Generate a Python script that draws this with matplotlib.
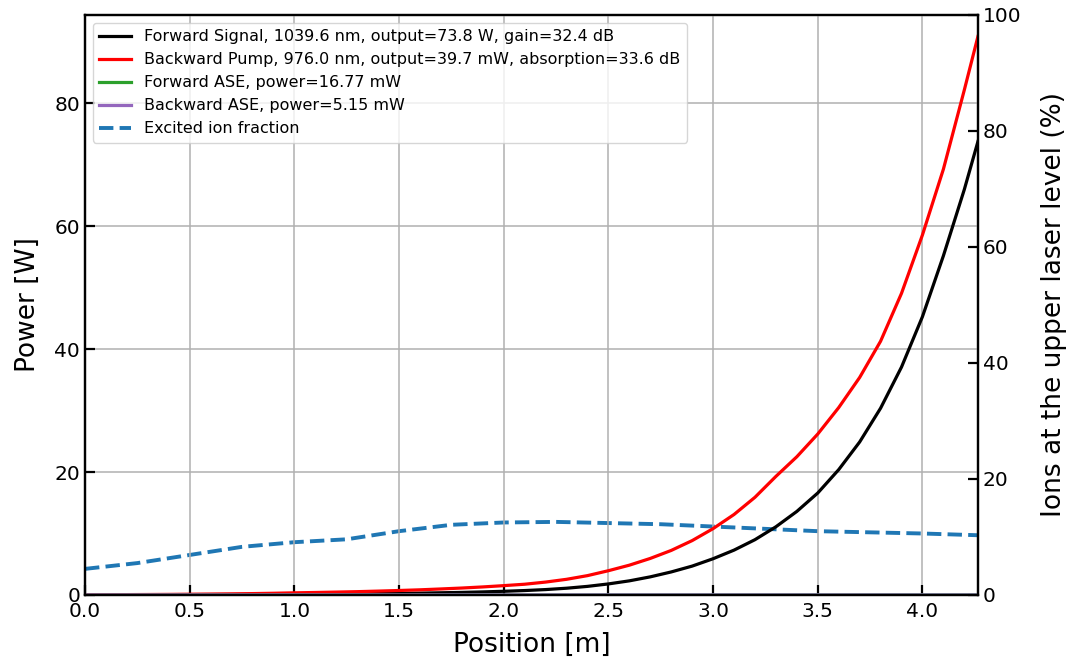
import matplotlib
matplotlib.use("Agg")
import matplotlib.pyplot as plt

# Fiber position along the amplifier [m]
position = [0.0, 0.1, 0.2, 0.3, 0.4, 0.5, 0.6, 0.7, 0.8, 0.9,
            1.0, 1.1, 1.2, 1.3, 1.4, 1.5, 1.6, 1.7, 1.8, 1.9,
            2.0, 2.1, 2.2, 2.3, 2.4, 2.5, 2.6, 2.7, 2.8, 2.9,
            3.0, 3.1, 3.2, 3.3, 3.4, 3.5, 3.6, 3.7, 3.8, 3.9,
            4.0, 4.1, 4.2, 4.265]

# Power along the fiber [W]
signal_power = [0.0425, 0.046, 0.05, 0.055, 0.06, 0.067, 0.075, 0.084, 0.095, 0.107,
                0.12, 0.14, 0.16, 0.19, 0.22, 0.26, 0.3, 0.36, 0.42, 0.5,
                0.6, 0.72, 0.88, 1.1, 1.4, 1.8, 2.3, 2.95, 3.75, 4.7,
                5.9, 7.3, 9.0, 11.1, 13.6, 16.6, 20.4, 24.9, 30.4, 37.1,
                45.3, 55.2, 66.0, 73.8]
pump_power = [0.0397, 0.049, 0.061, 0.076, 0.095, 0.118, 0.146, 0.18, 0.225, 0.28,
              0.35, 0.405, 0.47, 0.54, 0.63, 0.73, 0.84, 0.98, 1.13, 1.31,
              1.52, 1.75, 2.1, 2.55, 3.15, 3.95, 4.85, 5.95, 7.25, 8.85,
              10.8, 13.1, 15.9, 19.3, 22.5, 26.2, 30.5, 35.4, 41.3, 49.1,
              58.6, 69.3, 82.2, 90.9]
forward_ase = [0.0, 0.0001, 0.0002, 0.0002, 0.0003, 0.0004, 0.0005, 0.0005, 0.0006, 0.0007,
               0.0008, 0.0009, 0.001, 0.0011, 0.0012, 0.0013, 0.0014, 0.0015, 0.0016, 0.0018,
               0.002, 0.0022, 0.0024, 0.0026, 0.0028, 0.003, 0.0033, 0.0036, 0.004, 0.0043,
               0.0047, 0.0051, 0.0056, 0.0061, 0.0066, 0.0072, 0.0079, 0.0087, 0.0096, 0.0106,
               0.0118, 0.0134, 0.0152, 0.01677]
backward_ase = [0.00515, 0.005, 0.0049, 0.0048, 0.0047, 0.0046, 0.0045, 0.0044, 0.0043, 0.0042,
                0.0041, 0.004, 0.0039, 0.0038, 0.0036, 0.0035, 0.0034, 0.0032, 0.0031, 0.003,
                0.0028, 0.0027, 0.0025, 0.0024, 0.0022, 0.0021, 0.0019, 0.0018, 0.0016, 0.0015,
                0.0013, 0.0012, 0.001, 0.0009, 0.0008, 0.0007, 0.0006, 0.0005, 0.0004, 0.0003,
                0.0002, 0.0001, 0.00005, 0.0]

# Excited ion fraction [%]
ion_position = [0.0, 0.25, 0.5, 0.75, 1.0, 1.25, 1.5, 1.75, 2.0, 2.25, 2.5, 2.75,
                3.0, 3.25, 3.5, 3.75, 4.0, 4.265]
excited_fraction = [4.5, 5.5, 6.9, 8.3, 9.1, 9.6, 11.0, 12.1, 12.5, 12.6, 12.4, 12.2,
                    11.8, 11.4, 11.0, 10.8, 10.6, 10.3]

labels = [
    "Forward Signal, 1039.6 nm, output=73.8 W, gain=32.4 dB",
    "Backward Pump, 976.0 nm, output=39.7 mW, absorption=33.6 dB",
    "Forward ASE, power=16.77 mW",
    "Backward ASE, power=5.15 mW",
    "Excited ion fraction",
]

fig = plt.figure(figsize=(10.71, 6.63), dpi=100)
ax = fig.add_axes([0.0794, 0.1026, 0.8337, 0.8748])
ax2 = ax.twinx()

l1, = ax.plot(position, signal_power, color="black", lw=2.3, label=labels[0])
l2, = ax.plot(position, pump_power, color="red", lw=2.3, label=labels[1])
l3, = ax.plot(position, forward_ase, color="tab:green", lw=2.3, label=labels[2])
l4, = ax.plot(position, backward_ase, color="tab:purple", lw=2.3, label=labels[3])
l5, = ax2.plot(ion_position, excited_fraction, color="tab:blue", lw=2.8, ls="--", label=labels[4])

ax.set_xlim(0, 4.265)
ax.set_ylim(0, 94.4)
ax2.set_ylim(0, 100)
ax.set_xticks([0.0, 0.5, 1.0, 1.5, 2.0, 2.5, 3.0, 3.5, 4.0])
ax.set_yticks([0, 20, 40, 60, 80])
ax2.set_yticks([0, 20, 40, 60, 80, 100])

ax.grid(True, color="#b0b0b0", lw=1.1)
ax.set_axisbelow(True)

ax.set_xlabel("Position [m]", fontsize=19, labelpad=8)
ax.set_ylabel("Power [W]", fontsize=19, labelpad=10)
ax2.set_ylabel("Ions at the upper laser level (%)", fontsize=19, labelpad=14)

for a in (ax, ax2):
    a.tick_params(direction="in", length=7, width=1.6, labelsize=14.5)
    for s in a.spines.values():
        s.set_linewidth(1.6)
ax.tick_params(axis="x", pad=5)

ax.legend([l1, l2, l3, l4, l5], labels, loc="upper left", fontsize=11.5)
ax.set_zorder(ax2.get_zorder() + 1)
ax.patch.set_visible(False)

fig.savefig("out.png", dpi=100)
